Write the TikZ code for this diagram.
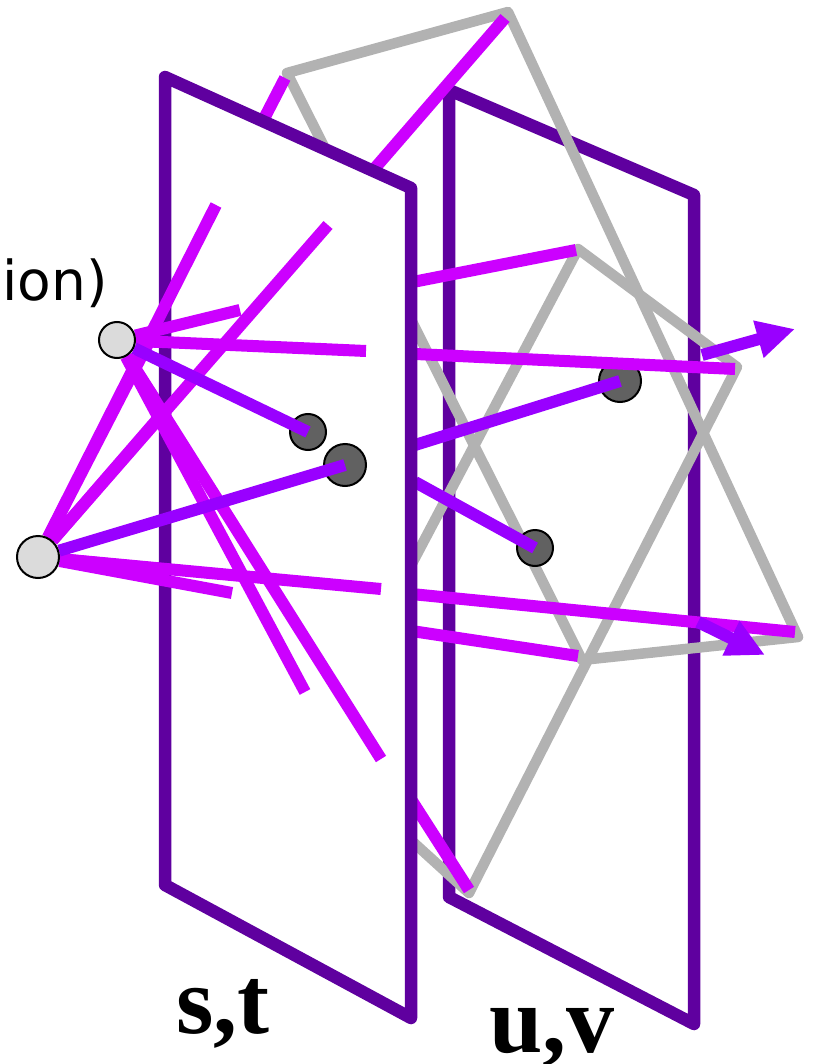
\documentclass[tikz,border=0pt]{standalone}
\usepackage{xcolor}
\usepackage{fontspec}
\newfontfamily\labelfont{DejaVu Sans}
\newfontfamily\planefont{Liberation Serif}
\usepackage{tikz}
\usetikzlibrary{arrows.meta}
\definecolor{planec}{HTML}{5F009F}
\definecolor{rayc}{HTML}{CC00FF}
\definecolor{pathc}{HTML}{9900FF}
\definecolor{quadc}{HTML}{B2B2B2}
\pgfdeclarelayer{top}
\pgfsetlayers{main,top}
\tikzset{
  planebox/.style={draw=planec,fill=white,line width=12.5pt,line join=round},
  quadline/.style={draw=quadc,line width=10.5pt,line join=round},
  rayline/.style={draw=rayc,line width=12pt},
  pathline/.style={draw=pathc,line width=12pt},
  pathtip/.style={pathline,-{Triangle[length=38pt,width=36pt]}},
  srcdot/.style={circle,draw=black,line width=2pt,fill=black!14,inner sep=0pt},
  hitdot/.style={circle,draw=black,line width=2pt,fill=black!62,inner sep=0pt}
}
\begin{document}
\begin{tikzpicture}[x=1pt,y=-1pt]
  \useasboundingbox (0,0) rectangle (812,1064);
  \begin{pgfonlayer}{top}
    \node[srcdot,minimum size=36pt] (srcA) at (117,340) {};
    \node[srcdot,minimum size=42pt] (srcB) at (38,557) {};
  \end{pgfonlayer}
  % far side
  \draw[planebox] (449,90) -- (694,195) -- (694,1024) -- (449,897) -- cycle;
  \coordinate (qa) at (287,73); \coordinate (qb) at (508,12);
  \coordinate (qc) at (798,637); \coordinate (qd) at (582,660);
  \coordinate (qe) at (578,249); \coordinate (qf) at (737,367);
  \coordinate (qg) at (469,893); \coordinate (qh) at (313,751);
  \draw[quadline] (qa) -- (qb) -- (qc) -- (qd) -- cycle;
  \draw[quadline] (qe) -- (qf) -- (qg) -- (qh) -- cycle;
  \node[hitdot,minimum size=42pt] (hitC) at (620,381) {};
  \node[hitdot,minimum size=36pt] (hitD) at (535,548) {};
  \coordinate (ra) at (285,78); \coordinate (rb) at (505,18);
  \coordinate (rc) at (576,250); \coordinate (rd) at (735,369);
  \coordinate (rs) at (405,630); \coordinate (re) at (578,656);
  \coordinate (rf) at (795,632); \coordinate (rg) at (469,890);
  \draw[rayline] (srcB) -- (ra);
  \draw[rayline] (srcB) -- (rb);
  \draw[rayline] (srcA) -- (rc);
  \draw[rayline] (srcA) -- (rd);
  \draw[rayline] (rs) -- (re);
  \draw[rayline] (srcB) -- (rf);
  \draw[rayline] (srcA) -- (rg);
  \coordinate (pc) at (415,445); \coordinate (pd) at (415,482);
  \draw[pathline] (pc) -- (hitC.center);
  \draw[pathline] (pd) -- (hitD.center);
  \coordinate (tc) at (702,355); \coordinate (tca) at (795,329);
  \coordinate (td) at (698,622); \coordinate (tda) at (765,655);
  \draw[pathtip] (tc) -- (tca);
  \draw[pathtip] (td) -- (tda);
  % near side
  \draw[planebox] (165,77) -- (411,188) -- (411,1018) -- (165,885) -- cycle;
  \node[hitdot,minimum size=36pt] (hitA) at (308,432) {};
  \node[hitdot,minimum size=42pt] (hitB) at (345,465) {};
  \coordinate (fa) at (216,205); \coordinate (fb) at (328,225);
  \coordinate (fc) at (240,310); \coordinate (fd) at (366,351);
  \coordinate (fe) at (232,593); \coordinate (ff) at (381,589);
  \coordinate (fg) at (381,759); \coordinate (fh) at (305,692);
  \draw[rayline] (srcB) -- (fa);
  \draw[rayline] (srcB) -- (fb);
  \draw[rayline] (srcA) -- (fc);
  \draw[rayline] (srcA) -- (fd);
  \draw[rayline] (srcB) -- (fe);
  \draw[rayline] (srcB) -- (ff);
  \draw[rayline] (srcA) -- (fg);
  \draw[rayline] (srcA) -- (fh);
  \draw[pathline] (srcA) -- (hitA.center);
  \draw[pathline] (srcB) -- (hitB.center);
  % labels
  \node[anchor=base east,inner sep=0pt,font=\labelfont\fontsize{55}{60}\selectfont] (viewlbl) at (108,300) {ion)};
  \node[anchor=base west,inner sep=0pt,font=\planefont\bfseries\fontsize{96}{100}\selectfont] (stlbl) at (176,1033) {s,t};
  \node[anchor=base west,inner sep=0pt,font=\planefont\bfseries\fontsize{96}{100}\selectfont] (uvlbl) at (489,1052) {u,v};
\end{tikzpicture}
\end{document}
